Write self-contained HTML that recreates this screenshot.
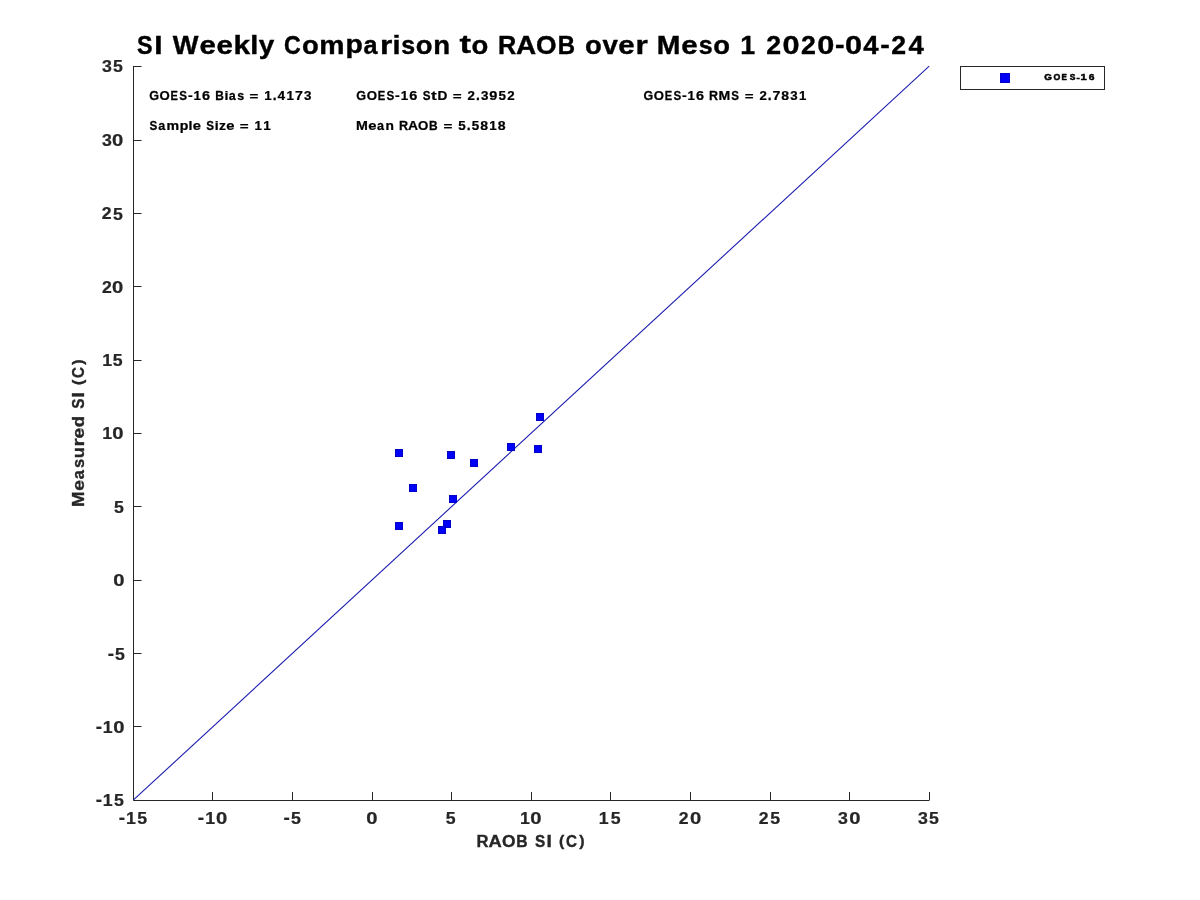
<!DOCTYPE html><html><head><meta charset="utf-8"><title>SI Weekly Comparison</title><style>html,body{margin:0;padding:0;background:#fff;width:1200px;height:900px;overflow:hidden}svg{display:block;will-change:transform}text{font-family:"Liberation Sans",sans-serif;font-weight:bold;font-size:100px}</style></head><body>
<svg width="1200" height="900" viewBox="0 0 1200 900">
<rect width="1200" height="900" fill="#fff"/>
<g fill="#000" stroke="#000"><text transform="matrix(0.23340 0 0 0.26249 137.03 53.60)" stroke-width="1.62">S</text><text transform="matrix(0.29859 0 0 0.26015 154.21 53.50)" stroke-width="1.44">I</text><text transform="matrix(0.27239 0 0 0.26015 172.64 53.50)" stroke-width="1.50">W</text><text transform="matrix(0.29564 0 0 0.25578 199.43 53.61)" stroke-width="1.45">e</text><text transform="matrix(0.29564 0 0 0.25578 216.39 53.61)" stroke-width="1.45">e</text><text transform="matrix(0.29974 0 0 0.25766 233.44 53.50)" stroke-width="1.44">k</text><text transform="matrix(0.28943 0 0 0.25766 250.14 53.50)" stroke-width="1.46">l</text><text transform="matrix(0.27890 0 0 0.25472 258.72 53.63)" stroke-width="1.50">y</text><text transform="matrix(0.23106 0 0 0.26249 283.93 53.60)" stroke-width="1.62">C</text><text transform="matrix(0.27464 0 0 0.25578 301.99 53.61)" stroke-width="1.51">o</text><text transform="matrix(0.28379 0 0 0.25359 319.37 53.50)" stroke-width="1.49">m</text><text transform="matrix(0.28332 0 0 0.25270 345.46 53.48)" stroke-width="1.49">p</text><text transform="matrix(0.25195 0 0 0.25578 363.46 53.61)" stroke-width="1.58">a</text><text transform="matrix(0.31674 0 0 0.25359 380.01 53.50)" stroke-width="1.41">r</text><text transform="matrix(0.28943 0 0 0.25766 392.41 53.50)" stroke-width="1.46">i</text><text transform="matrix(0.25013 0 0 0.25555 401.32 53.61)" stroke-width="1.58">s</text><text transform="matrix(0.27464 0 0 0.25578 415.79 53.61)" stroke-width="1.51">o</text><text transform="matrix(0.27642 0 0 0.25359 433.24 53.50)" stroke-width="1.51">n</text><text transform="matrix(0.34512 0 0 0.26052 459.38 53.27)" stroke-width="1.33">t</text><text transform="matrix(0.27464 0 0 0.25578 471.43 53.61)" stroke-width="1.51">o</text><text transform="matrix(0.25300 0 0 0.26015 497.92 53.50)" stroke-width="1.56">R</text><text transform="matrix(0.27886 0 0 0.26015 516.00 53.50)" stroke-width="1.49">A</text><text transform="matrix(0.26417 0 0 0.26249 536.08 53.60)" stroke-width="1.52">O</text><text transform="matrix(0.23950 0 0 0.26015 557.87 53.50)" stroke-width="1.60">B</text><text transform="matrix(0.27464 0 0 0.25578 584.95 53.61)" stroke-width="1.51">o</text><text transform="matrix(0.27664 0 0 0.25224 602.40 53.50)" stroke-width="1.51">v</text><text transform="matrix(0.29564 0 0 0.25578 618.35 53.61)" stroke-width="1.45">e</text><text transform="matrix(0.31674 0 0 0.25359 635.40 53.50)" stroke-width="1.41">r</text><text transform="matrix(0.28433 0 0 0.26015 656.82 53.50)" stroke-width="1.47">M</text><text transform="matrix(0.29564 0 0 0.25578 681.23 53.61)" stroke-width="1.45">e</text><text transform="matrix(0.25013 0 0 0.25555 698.68 53.61)" stroke-width="1.58">s</text><text transform="matrix(0.27464 0 0 0.25578 713.16 53.61)" stroke-width="1.51">o</text><text transform="matrix(0.26771 0 0 0.26015 740.17 53.50)" stroke-width="1.52">1</text><text transform="matrix(0.26686 0 0 0.26107 766.20 53.50)" stroke-width="1.52">2</text><text transform="matrix(0.30712 0 0 0.26249 782.53 53.60)" stroke-width="1.41">0</text><text transform="matrix(0.26686 0 0 0.26107 801.00 53.50)" stroke-width="1.52">2</text><text transform="matrix(0.30712 0 0 0.26249 817.32 53.60)" stroke-width="1.41">0</text><text transform="matrix(0.28625 0 0 0.26577 834.98 53.37)" stroke-width="1.45">-</text><text transform="matrix(0.30712 0 0 0.26249 845.10 53.60)" stroke-width="1.41">0</text><text transform="matrix(0.27497 0 0 0.26015 863.23 53.50)" stroke-width="1.50">4</text><text transform="matrix(0.28625 0 0 0.26577 880.16 53.37)" stroke-width="1.45">-</text><text transform="matrix(0.26686 0 0 0.26107 891.35 53.50)" stroke-width="1.52">2</text><text transform="matrix(0.27497 0 0 0.26015 908.41 53.50)" stroke-width="1.50">4</text></g>
<g fill="#000" stroke="#000"><text transform="matrix(0.12578 0 0 0.13054 149.36 99.93)" stroke-width="1.95">G</text><text transform="matrix(0.13167 0 0 0.13054 159.62 99.93)" stroke-width="1.91">O</text><text transform="matrix(0.11126 0 0 0.12935 170.60 99.88)" stroke-width="2.08">E</text><text transform="matrix(0.11614 0 0 0.13054 179.31 99.93)" stroke-width="2.03">S</text><text transform="matrix(0.14149 0 0 0.12869 187.90 99.72)" stroke-width="1.85">-</text><text transform="matrix(0.13309 0 0 0.12935 193.55 99.88)" stroke-width="1.91">1</text><text transform="matrix(0.14521 0 0 0.13036 201.94 99.93)" stroke-width="1.82">6</text><text transform="matrix(0.11921 0 0 0.12935 215.13 99.88)" stroke-width="2.01">B</text><text transform="matrix(0.14143 0 0 0.12814 224.39 99.88)" stroke-width="1.86">i</text><text transform="matrix(0.12533 0 0 0.12698 228.80 99.93)" stroke-width="1.98">a</text><text transform="matrix(0.12431 0 0 0.12686 237.29 99.93)" stroke-width="1.99">s</text><text transform="matrix(0.15144 0 0 0.10559 249.60 99.57)" stroke-width="1.98">=</text><text transform="matrix(0.13309 0 0 0.12935 264.34 99.88)" stroke-width="1.91">1</text><text transform="matrix(0.13838 0 0 0.14245 272.82 99.88)" stroke-width="1.78">.</text><text transform="matrix(0.13687 0 0 0.12935 277.60 99.88)" stroke-width="1.88">4</text><text transform="matrix(0.13309 0 0 0.12935 286.54 99.88)" stroke-width="1.91">1</text><text transform="matrix(0.14137 0 0 0.12935 294.91 99.88)" stroke-width="1.85">7</text><text transform="matrix(0.13346 0 0 0.13027 303.94 99.91)" stroke-width="1.90">3</text></g>
<g fill="#000" stroke="#000"><text transform="matrix(0.11620 0 0 0.13054 149.54 129.93)" stroke-width="2.03">S</text><text transform="matrix(0.12540 0 0 0.12698 158.18 129.93)" stroke-width="1.98">a</text><text transform="matrix(0.14164 0 0 0.12586 166.57 129.88)" stroke-width="1.87">m</text><text transform="matrix(0.14108 0 0 0.12568 179.65 129.88)" stroke-width="1.88">p</text><text transform="matrix(0.14152 0 0 0.12814 188.57 129.88)" stroke-width="1.86">l</text><text transform="matrix(0.14721 0 0 0.12698 192.77 129.93)" stroke-width="1.83">e</text><text transform="matrix(0.11620 0 0 0.13054 206.24 129.93)" stroke-width="2.03">S</text><text transform="matrix(0.14152 0 0 0.12814 214.77 129.88)" stroke-width="1.86">i</text><text transform="matrix(0.13884 0 0 0.12518 219.01 129.88)" stroke-width="1.90">z</text><text transform="matrix(0.14721 0 0 0.12698 226.26 129.93)" stroke-width="1.83">e</text><text transform="matrix(0.15153 0 0 0.10559 239.87 129.57)" stroke-width="1.98">=</text><text transform="matrix(0.13317 0 0 0.12935 254.62 129.88)" stroke-width="1.90">1</text><text transform="matrix(0.13317 0 0 0.12935 263.34 129.88)" stroke-width="1.90">1</text></g>
<g fill="#000" stroke="#000"><text transform="matrix(0.12635 0 0 0.13054 356.36 99.93)" stroke-width="1.95">G</text><text transform="matrix(0.13226 0 0 0.13054 366.66 99.93)" stroke-width="1.90">O</text><text transform="matrix(0.11177 0 0 0.12935 377.69 99.88)" stroke-width="2.08">E</text><text transform="matrix(0.11666 0 0 0.13054 386.44 99.93)" stroke-width="2.03">S</text><text transform="matrix(0.14216 0 0 0.12869 395.07 99.72)" stroke-width="1.85">-</text><text transform="matrix(0.13370 0 0 0.12935 400.74 99.88)" stroke-width="1.90">1</text><text transform="matrix(0.14586 0 0 0.13036 409.17 99.93)" stroke-width="1.81">6</text><text transform="matrix(0.11666 0 0 0.13054 422.63 99.93)" stroke-width="2.03">S</text><text transform="matrix(0.17213 0 0 0.12950 431.08 99.76)" stroke-width="1.67">t</text><text transform="matrix(0.13672 0 0 0.12935 437.38 99.88)" stroke-width="1.88">D</text><text transform="matrix(0.15213 0 0 0.10559 452.67 99.57)" stroke-width="1.97">=</text><text transform="matrix(0.13331 0 0 0.12982 467.43 99.88)" stroke-width="1.90">2</text><text transform="matrix(0.13907 0 0 0.14245 476.00 99.88)" stroke-width="1.78">.</text><text transform="matrix(0.13406 0 0 0.13027 480.97 99.91)" stroke-width="1.89">3</text><text transform="matrix(0.14557 0 0 0.13036 489.34 99.93)" stroke-width="1.81">9</text><text transform="matrix(0.13381 0 0 0.13008 498.51 99.93)" stroke-width="1.89">5</text><text transform="matrix(0.13331 0 0 0.12982 507.24 99.88)" stroke-width="1.90">2</text></g>
<g fill="#000" stroke="#000"><text transform="matrix(0.14235 0 0 0.12935 355.92 129.88)" stroke-width="1.84">M</text><text transform="matrix(0.14773 0 0 0.12698 368.20 129.93)" stroke-width="1.83">e</text><text transform="matrix(0.12584 0 0 0.12698 376.94 129.93)" stroke-width="1.98">a</text><text transform="matrix(0.13806 0 0 0.12586 385.41 129.88)" stroke-width="1.90">n</text><text transform="matrix(0.12651 0 0 0.12935 398.91 129.88)" stroke-width="1.95">R</text><text transform="matrix(0.13957 0 0 0.12935 408.00 129.88)" stroke-width="1.86">A</text><text transform="matrix(0.13220 0 0 0.13054 418.11 129.93)" stroke-width="1.90">O</text><text transform="matrix(0.11969 0 0 0.12935 429.07 129.88)" stroke-width="2.01">B</text><text transform="matrix(0.15206 0 0 0.10559 443.39 129.57)" stroke-width="1.97">=</text><text transform="matrix(0.13375 0 0 0.13008 458.17 129.93)" stroke-width="1.90">5</text><text transform="matrix(0.13900 0 0 0.14245 466.70 129.88)" stroke-width="1.78">.</text><text transform="matrix(0.13375 0 0 0.13008 471.70 129.93)" stroke-width="1.90">5</text><text transform="matrix(0.14090 0 0 0.13054 480.21 129.93)" stroke-width="1.84">8</text><text transform="matrix(0.13364 0 0 0.12935 489.22 129.88)" stroke-width="1.90">1</text><text transform="matrix(0.14090 0 0 0.13054 497.72 129.93)" stroke-width="1.84">8</text></g>
<g fill="#000" stroke="#000"><text transform="matrix(0.12517 0 0 0.13054 643.61 99.93)" stroke-width="1.96">G</text><text transform="matrix(0.13103 0 0 0.13054 653.82 99.93)" stroke-width="1.91">O</text><text transform="matrix(0.11071 0 0 0.12935 664.75 99.88)" stroke-width="2.09">E</text><text transform="matrix(0.11557 0 0 0.13054 673.43 99.93)" stroke-width="2.04">S</text><text transform="matrix(0.14078 0 0 0.12869 681.97 99.72)" stroke-width="1.86">-</text><text transform="matrix(0.13244 0 0 0.12935 687.60 99.88)" stroke-width="1.91">1</text><text transform="matrix(0.14450 0 0 0.13036 695.95 99.93)" stroke-width="1.82">6</text><text transform="matrix(0.12539 0 0 0.12935 709.03 99.88)" stroke-width="1.96">R</text><text transform="matrix(0.14109 0 0 0.12935 718.53 99.88)" stroke-width="1.85">M</text><text transform="matrix(0.11557 0 0 0.13054 731.30 99.93)" stroke-width="2.04">S</text><text transform="matrix(0.15071 0 0 0.10559 744.76 99.57)" stroke-width="1.98">=</text><text transform="matrix(0.13205 0 0 0.12982 759.38 99.88)" stroke-width="1.91">2</text><text transform="matrix(0.13765 0 0 0.14245 767.87 99.88)" stroke-width="1.79">.</text><text transform="matrix(0.14068 0 0 0.12935 772.50 99.88)" stroke-width="1.85">7</text><text transform="matrix(0.13964 0 0 0.13054 781.27 99.93)" stroke-width="1.85">8</text><text transform="matrix(0.13280 0 0 0.13027 790.16 99.91)" stroke-width="1.90">3</text><text transform="matrix(0.13244 0 0 0.12935 798.88 99.88)" stroke-width="1.91">1</text></g>
<path d="M133.5,66 V800.5 H929.5" fill="none" stroke="#262626" stroke-width="1"/>
<path d="M212.5,800 V792 M292.5,800 V792 M372.5,800 V792 M451.5,800 V792 M531.5,800 V792 M610.5,800 V792 M690.5,800 V792 M770.5,800 V792 M849.5,800 V792 M929.5,800 V792 M133 66.5 H141.5 M133 140.5 H141.5 M133 213.5 H141.5 M133 286.5 H141.5 M133 360.5 H141.5 M133 433.5 H141.5 M133 506.5 H141.5 M133 580.5 H141.5 M133 653.5 H141.5 M133 726.5 H141.5" fill="none" stroke="#262626" stroke-width="1"/>
<g fill="#262626" stroke="#262626"><text transform="matrix(0.17731 0 0 0.17238 102.02 72.22)" stroke-width="1.43">3</text><text transform="matrix(0.17698 0 0 0.17216 112.92 72.24)" stroke-width="1.43">5</text></g>
<g fill="#262626" stroke="#262626"><text transform="matrix(0.17731 0 0 0.17238 102.02 145.52)" stroke-width="1.43">3</text><text transform="matrix(0.20294 0 0 0.17273 112.12 145.54)" stroke-width="1.34">0</text></g>
<g fill="#262626" stroke="#262626"><text transform="matrix(0.17637 0 0 0.17180 101.81 219.47)" stroke-width="1.44">2</text><text transform="matrix(0.17698 0 0 0.17216 112.92 219.54)" stroke-width="1.43">5</text></g>
<g fill="#262626" stroke="#262626"><text transform="matrix(0.17637 0 0 0.17180 102.01 292.57)" stroke-width="1.44">2</text><text transform="matrix(0.20294 0 0 0.17273 112.12 292.64)" stroke-width="1.34">0</text></g>
<g fill="#262626" stroke="#262626"><text transform="matrix(0.17694 0 0 0.17120 102.31 365.68)" stroke-width="1.44">1</text><text transform="matrix(0.17698 0 0 0.17216 112.72 365.74)" stroke-width="1.43">5</text></g>
<g fill="#262626" stroke="#262626"><text transform="matrix(0.17694 0 0 0.17120 102.21 439.38)" stroke-width="1.44">1</text><text transform="matrix(0.20294 0 0 0.17273 112.22 439.44)" stroke-width="1.34">0</text></g>
<g fill="#262626" stroke="#262626"><text transform="matrix(0.17698 0 0 0.17216 114.05 512.54)" stroke-width="1.43">5</text></g>
<g fill="#262626" stroke="#262626"><text transform="matrix(0.20294 0 0 0.17273 113.37 585.54)" stroke-width="1.34">0</text></g>
<g fill="#262626" stroke="#262626"><text transform="matrix(0.18942 0 0 0.17580 107.69 659.61)" stroke-width="1.37">-</text><text transform="matrix(0.17698 0 0 0.17216 114.92 659.74)" stroke-width="1.43">5</text></g>
<g fill="#262626" stroke="#262626"><text transform="matrix(0.18942 0 0 0.17580 95.69 732.51)" stroke-width="1.37">-</text><text transform="matrix(0.17694 0 0 0.17120 102.86 732.58)" stroke-width="1.44">1</text><text transform="matrix(0.20294 0 0 0.17273 113.32 732.64)" stroke-width="1.34">0</text></g>
<g fill="#262626" stroke="#262626"><text transform="matrix(0.18942 0 0 0.17580 95.69 805.61)" stroke-width="1.37">-</text><text transform="matrix(0.17694 0 0 0.17120 102.79 805.67)" stroke-width="1.44">1</text><text transform="matrix(0.17698 0 0 0.17216 113.92 805.74)" stroke-width="1.43">5</text></g>
<g fill="#262626" stroke="#262626"><text transform="matrix(0.18942 0 0 0.17580 118.69 823.51)" stroke-width="1.37">-</text><text transform="matrix(0.17694 0 0 0.17120 125.94 823.58)" stroke-width="1.44">1</text><text transform="matrix(0.17698 0 0 0.17216 137.22 823.64)" stroke-width="1.43">5</text></g>
<g fill="#262626" stroke="#262626"><text transform="matrix(0.18942 0 0 0.17580 197.69 823.51)" stroke-width="1.37">-</text><text transform="matrix(0.17694 0 0 0.17120 205.26 823.58)" stroke-width="1.44">1</text><text transform="matrix(0.20294 0 0 0.17273 216.12 823.64)" stroke-width="1.34">0</text></g>
<g fill="#262626" stroke="#262626"><text transform="matrix(0.18942 0 0 0.17580 283.44 823.51)" stroke-width="1.37">-</text><text transform="matrix(0.17698 0 0 0.17216 290.97 823.64)" stroke-width="1.43">5</text></g>
<g fill="#262626" stroke="#262626"><text transform="matrix(0.20294 0 0 0.17273 366.37 823.64)" stroke-width="1.34">0</text></g>
<g fill="#262626" stroke="#262626"><text transform="matrix(0.17698 0 0 0.17216 445.80 823.64)" stroke-width="1.43">5</text></g>
<g fill="#262626" stroke="#262626"><text transform="matrix(0.17694 0 0 0.17120 520.11 823.58)" stroke-width="1.44">1</text><text transform="matrix(0.20294 0 0 0.17273 530.32 823.64)" stroke-width="1.34">0</text></g>
<g fill="#262626" stroke="#262626"><text transform="matrix(0.17694 0 0 0.17120 598.81 823.58)" stroke-width="1.44">1</text><text transform="matrix(0.17698 0 0 0.17216 610.72 823.64)" stroke-width="1.43">5</text></g>
<g fill="#262626" stroke="#262626"><text transform="matrix(0.17637 0 0 0.17180 678.81 823.58)" stroke-width="1.44">2</text><text transform="matrix(0.20294 0 0 0.17273 690.12 823.64)" stroke-width="1.34">0</text></g>
<g fill="#262626" stroke="#262626"><text transform="matrix(0.17637 0 0 0.17180 758.81 823.58)" stroke-width="1.44">2</text><text transform="matrix(0.17698 0 0 0.17216 770.22 823.64)" stroke-width="1.43">5</text></g>
<g fill="#262626" stroke="#262626"><text transform="matrix(0.17731 0 0 0.17238 838.02 823.62)" stroke-width="1.43">3</text><text transform="matrix(0.20294 0 0 0.17273 849.32 823.64)" stroke-width="1.34">0</text></g>
<g fill="#262626" stroke="#262626"><text transform="matrix(0.17731 0 0 0.17238 918.02 823.62)" stroke-width="1.43">3</text><text transform="matrix(0.17698 0 0 0.17216 929.02 823.64)" stroke-width="1.43">5</text></g>
<g fill="#262626" stroke="#262626"><text transform="matrix(0.16663 0 0 0.16975 476.56 846.58)" stroke-width="2.08">R</text><text transform="matrix(0.18388 0 0 0.16975 488.56 846.58)" stroke-width="1.98">A</text><text transform="matrix(0.17416 0 0 0.17132 501.90 846.64)" stroke-width="2.03">O</text><text transform="matrix(0.15762 0 0 0.16975 516.37 846.58)" stroke-width="2.14">B</text><text transform="matrix(0.15354 0 0 0.17132 535.08 846.64)" stroke-width="2.16">S</text><text transform="matrix(0.19237 0 0 0.16975 546.52 846.58)" stroke-width="1.94">I</text><text transform="matrix(0.15878 0 0 0.15390 558.88 845.56)" stroke-width="2.24">(</text><text transform="matrix(0.15211 0 0 0.17132 566.03 846.64)" stroke-width="2.17">C</text><text transform="matrix(0.15878 0 0 0.15390 579.33 845.56)" stroke-width="2.24">)</text></g>
<g fill="#262626" stroke="#262626" transform="translate(84,505.8) rotate(-90)"><text transform="matrix(0.18714 0 0 0.16975 -1.08 -0.17)" stroke-width="1.96">M</text><text transform="matrix(0.19409 0 0 0.16655 15.09 -0.10)" stroke-width="1.95">e</text><text transform="matrix(0.16531 0 0 0.16655 26.60 -0.10)" stroke-width="2.11">a</text><text transform="matrix(0.16393 0 0 0.16640 37.83 -0.10)" stroke-width="2.12">s</text><text transform="matrix(0.18136 0 0 0.16553 47.58 -0.10)" stroke-width="2.02">u</text><text transform="matrix(0.20707 0 0 0.16508 59.23 -0.17)" stroke-width="1.89">r</text><text transform="matrix(0.19409 0 0 0.16655 67.33 -0.10)" stroke-width="1.95">e</text><text transform="matrix(0.18600 0 0 0.16912 78.59 -0.11)" stroke-width="1.97">d</text><text transform="matrix(0.15320 0 0 0.17132 96.98 -0.11)" stroke-width="2.16">S</text><text transform="matrix(0.19190 0 0 0.16975 108.41 -0.17)" stroke-width="1.94">I</text><text transform="matrix(0.15842 0 0 0.15390 120.73 -1.19)" stroke-width="2.24">(</text><text transform="matrix(0.15177 0 0 0.17132 127.87 -0.11)" stroke-width="2.17">C</text><text transform="matrix(0.15842 0 0 0.15390 141.14 -1.19)" stroke-width="2.24">)</text></g>
<line x1="133.2" y1="800.2" x2="929.2" y2="66.2" stroke="#1c1cb0" stroke-width="1.1"/>
<g fill="#0000f8" stroke="#0000c8" stroke-width="1"><rect x="395.5" y="449.5" width="7" height="7"/><rect x="447.5" y="451.5" width="7" height="7"/><rect x="470.5" y="459.5" width="7" height="7"/><rect x="507.5" y="443.5" width="7" height="7"/><rect x="534.5" y="445.5" width="7" height="7"/><rect x="536.5" y="413.5" width="7" height="7"/><rect x="409.5" y="484.5" width="7" height="7"/><rect x="449.5" y="495.5" width="7" height="7"/><rect x="395.5" y="522.5" width="7" height="7"/><rect x="443.5" y="520.5" width="7" height="7"/><rect x="438.5" y="526.5" width="7" height="7"/></g>
<rect x="960.5" y="66.5" width="144" height="23" fill="#fff" stroke="#262626" stroke-width="1"/>
<rect x="1000.5" y="73.5" width="9" height="9" fill="#0000f8" stroke="#0000c8" stroke-width="1"/>
<g fill="#000" stroke="#000"><text transform="matrix(0.09929 0 0 0.09656 1044.34 80.39)" stroke-width="5.11">G</text><text transform="matrix(0.08779 0 0 0.09656 1053.59 80.39)" stroke-width="5.43">O</text><text transform="matrix(0.08021 0 0 0.09552 1061.41 80.35)" stroke-width="5.71">E</text><text transform="matrix(0.08512 0 0 0.09656 1069.70 80.39)" stroke-width="5.51">S</text><text transform="matrix(0.09846 0 0 0.07372 1076.57 79.72)" stroke-width="5.87">-</text><text transform="matrix(0.11175 0 0 0.09552 1080.55 80.35)" stroke-width="4.84">1</text><text transform="matrix(0.10343 0 0 0.09643 1088.87 80.39)" stroke-width="5.01">6</text></g>
</svg></body></html>
